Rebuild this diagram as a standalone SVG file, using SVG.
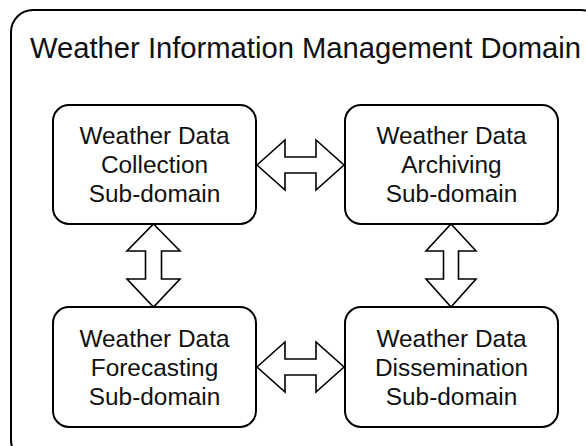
<svg xmlns="http://www.w3.org/2000/svg" width="586" height="446" viewBox="0 0 586 446">
<style>
.frame{fill:#fff;stroke:#000;stroke-width:2}
.box{fill:#fff;stroke:#000;stroke-width:2}
.arr{fill:#fff;stroke:#000;stroke-width:1.6;stroke-linejoin:miter}
text{font-family:"Liberation Sans",Arial,sans-serif;fill:#111}
.title{font-size:29.2px}
.lbl{font-size:24.4px;text-anchor:middle}
</style>
<rect width="586" height="446" fill="#fff"/>
<g id="domain">
<rect class="frame" x="11" y="10" width="592" height="452" rx="22"/>
<text class="title" x="30" y="58">Weather Information Management Domain</text>
</g>
<g id="connectors">
<polygon class="arr" points="257,165 285,140 285,157 316,157 316,140 344,165 316,190 316,173 285,173 285,190"/>
<polygon class="arr" points="257,367 285,342 285,359 316,359 316,342 344,367 316,392 316,375 285,375 285,392"/>
<polygon class="arr" points="153.5,224 180,251 161.5,251 161.5,279 180,279 153.5,307 127,279 145.5,279 145.5,251 127,251"/>
<polygon class="arr" points="451,224 476,251 458.5,251 458.5,279 476,279 451,307 426,279 443.5,279 443.5,251 426,251"/>
</g>
<g id="collection">
<rect class="box" x="53" y="105" width="203" height="119" rx="16"/>
<text class="lbl" x="154.5" y="144">Weather Data</text>
<text class="lbl" x="154.5" y="173">Collection</text>
<text class="lbl" x="154.5" y="202">Sub-domain</text>
</g>
<g id="archiving">
<rect class="box" x="345" y="105" width="213" height="119" rx="16"/>
<text class="lbl" x="451.5" y="144">Weather Data</text>
<text class="lbl" x="451.5" y="173">Archiving</text>
<text class="lbl" x="451.5" y="202">Sub-domain</text>
</g>
<g id="forecasting">
<rect class="box" x="53" y="307" width="203" height="120" rx="16"/>
<text class="lbl" x="154.5" y="347">Weather Data</text>
<text class="lbl" x="154.5" y="376">Forecasting</text>
<text class="lbl" x="154.5" y="405">Sub-domain</text>
</g>
<g id="dissemination">
<rect class="box" x="345" y="307" width="213" height="120" rx="16"/>
<text class="lbl" x="451.5" y="347">Weather Data</text>
<text class="lbl" x="451.5" y="376">Dissemination</text>
<text class="lbl" x="451.5" y="405">Sub-domain</text>
</g>
</svg>
